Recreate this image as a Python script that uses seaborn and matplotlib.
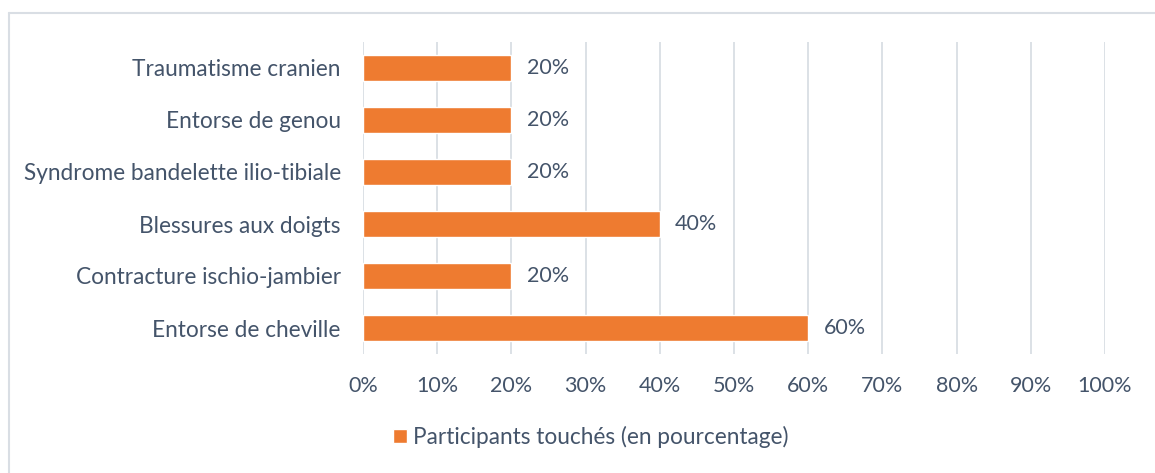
import matplotlib
matplotlib.use("Agg")
import matplotlib.pyplot as plt
import seaborn as sns
import pandas as pd
from matplotlib.lines import Line2D
from matplotlib.ticker import FuncFormatter, MultipleLocator

categories = [
    "Traumatisme cranien",
    "Entorse de genou",
    "Syndrome bandelette ilio-tibiale",
    "Blessures aux doigts",
    "Contracture ischio-jambier",
    "Entorse de cheville",
]
values = [20, 20, 20, 40, 20, 60]
series_name = "Participants touchés (en pourcentage)"

sns.set_theme(style="white")
plt.rcParams["font.family"] = ["Lato", "DejaVu Sans"]

text_color = "#44546A"
bar_color = "#EE7B30"
grid_color = "#D9DEE4"
fs_words = 16.3
fs_nums = 15.5

df = pd.DataFrame({"cat": categories, "val": values, "series": series_name})

fig = plt.figure(figsize=(11.55, 4.73), dpi=100)
ax = fig.add_axes([363 / 1155, 1 - 354 / 473, (1105 - 363) / 1155, (354 - 42) / 473])

sns.barplot(data=df, y="cat", x="val", hue="series", palette=[bar_color],
            orient="h", width=0.5, ax=ax, saturation=1, legend=True)

ax.set_xlim(0, 100)
ax.xaxis.set_major_locator(MultipleLocator(10))
ax.xaxis.set_major_formatter(FuncFormatter(lambda v, p: f"{int(v)}%"))
ax.grid(axis="x", color=grid_color, linewidth=1.3)
ax.set_axisbelow(True)
for s in ax.spines.values():
    s.set_visible(False)
ax.set_xlabel("")
ax.set_ylabel("")
ax.tick_params(axis="x", length=0, pad=16, labelsize=fs_nums, labelcolor=text_color)
ax.tick_params(axis="y", length=0, pad=16, labelsize=fs_words, labelcolor=text_color)

for cont in ax.containers:
    ax.bar_label(cont, labels=[f"{v}%" for v in values], padding=11,
                 fontsize=fs_nums, color=text_color)

leg = ax.legend(loc="center", frameon=False, fontsize=fs_words,
                handlelength=0.6, handleheight=0.6, handletextpad=0.3)
for t in leg.get_texts():
    t.set_color(text_color)
leg.set_bbox_to_anchor((591 / 1155, 1 - 437 / 473), transform=fig.transFigure)

# chart-area border (top and left edges visible)
fig.add_artist(Line2D([8.5 / 1155, 1], [1 - 13 / 473, 1 - 13 / 473],
                      transform=fig.transFigure, color=grid_color, linewidth=1.5))
fig.add_artist(Line2D([8.5 / 1155, 8.5 / 1155], [0, 1 - 13 / 473],
                      transform=fig.transFigure, color=grid_color, linewidth=1.5))

fig.savefig("out.png", dpi=100)
